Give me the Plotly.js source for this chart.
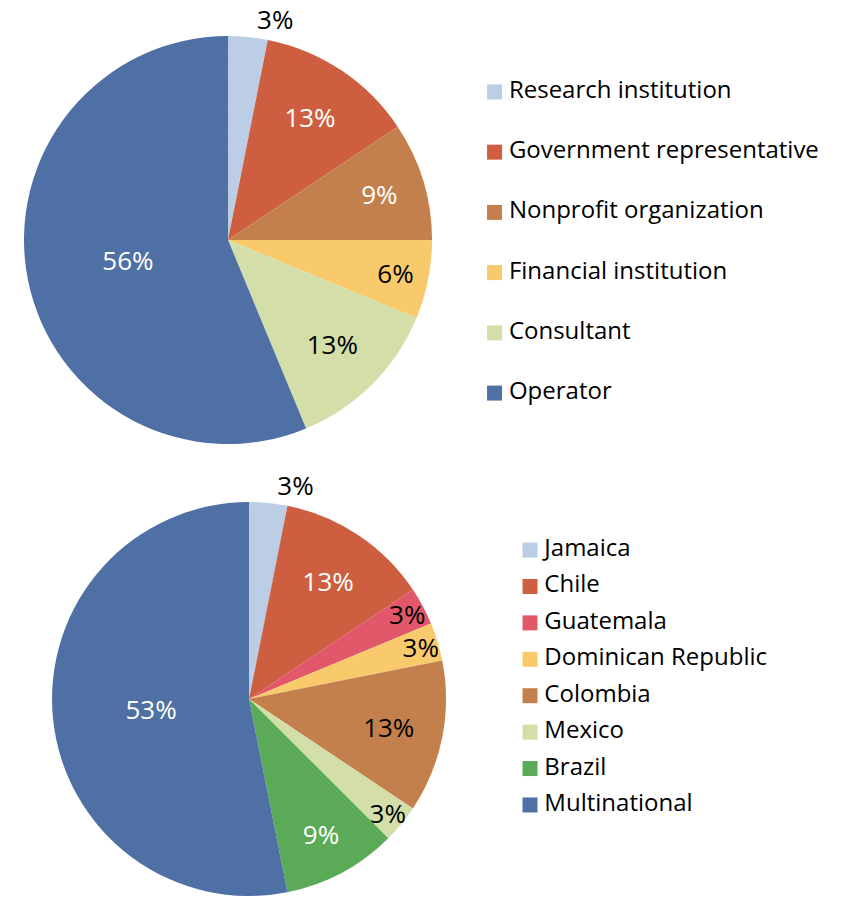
<!DOCTYPE html>
<html>
<head>
<meta charset="utf-8">
<script src="https://cdn.plot.ly/plotly-3.0.1.min.js"></script>
<style>html,body{margin:0;padding:0;background:#fff;}#chart{width:842px;height:897px;}</style>
</head>
<body>
<div id="chart"></div>
<script>
// ---- data ----
var roleLabels = ["Research institution", "Government representative", "Nonprofit organization", "Financial institution", "Consultant", "Operator"];
var roleCounts = [1, 4, 3, 2, 4, 18];
var roleColors = ["#bccde6", "#cd5f40", "#c4804c", "#f8ca6c", "#d3dea8", "#4e70a4"];
var roleTextColors = ["#000000", "#ffffff", "#ffffff", "#000000", "#000000", "#ffffff"];
var roleTextPos = ["outside", "inside", "inside", "inside", "inside", "inside"];

var countryLabels = ["Jamaica", "Chile", "Guatemala", "Dominican Republic", "Colombia", "Mexico", "Brazil", "Multinational"];
var countryCounts = [1, 4, 1, 1, 4, 1, 3, 17];
var countryColors = ["#bccde6", "#cd5f40", "#e0586a", "#f8ca6c", "#c4804c", "#d3dea8", "#5aaa57", "#4e70a4"];
var countryTextColors = ["#000000", "#ffffff", "#000000", "#000000", "#000000", "#000000", "#ffffff", "#ffffff"];
var countryTextPos = ["outside", "inside", "inside", "inside", "inside", "inside", "inside", "inside"];

var FONT = "Open Sans, Noto Sans, sans-serif";

function idx(arr) { return arr.map(function (_, i) { return i; }); }
function zeros(arr) { return arr.map(function () { return 0; }); }

var traces = [
  {
    type: "pie", labels: roleLabels, values: roleCounts, sort: false, direction: "clockwise", rotation: 0,
    marker: { colors: roleColors, line: { width: 0 } },
    texttemplate: "%{percent:.0%}", textposition: roleTextPos, insidetextorientation: "horizontal",
    textfont: { family: FONT, size: 26, color: roleTextColors },
    domain: { x: [0.0285, 0.5131], y: [0.505, 0.9599] },
    showlegend: false, hoverinfo: "label+percent"
  },
  {
    type: "pie", labels: countryLabels, values: countryCounts, sort: false, direction: "clockwise", rotation: 0,
    marker: { colors: countryColors, line: { width: 0 } },
    texttemplate: "%{percent:.0%}", textposition: countryTextPos, insidetextorientation: "horizontal",
    textfont: { family: FONT, size: 26, color: countryTextColors },
    domain: { x: [0.0618, 0.5297], y: [0.0011, 0.4404] },
    showlegend: false, hoverinfo: "label+percent"
  },
  {
    type: "scatter", mode: "markers+text", xaxis: "x", yaxis: "y",
    x: zeros(roleLabels), y: idx(roleLabels), text: roleLabels, texttemplate: "\u2009%{text}", textposition: "middle right",
    marker: { symbol: "square", size: 15, color: roleColors },
    textfont: { family: FONT, size: 24, color: "#000000" },
    cliponaxis: false, showlegend: false, hoverinfo: "text"
  },
  {
    type: "scatter", mode: "markers+text", xaxis: "x2", yaxis: "y2",
    x: zeros(countryLabels), y: idx(countryLabels), text: countryLabels, texttemplate: "\u2009%{text}", textposition: "middle right",
    marker: { symbol: "square", size: 15, color: countryColors },
    textfont: { family: FONT, size: 24, color: "#000000" },
    cliponaxis: false, showlegend: false, hoverinfo: "text"
  }
];

var hiddenAxis = { showgrid: false, zeroline: false, showticklabels: false, showline: false, ticks: "", fixedrange: true };

var layout = {
  width: 842, height: 897,
  margin: { l: 0, r: 0, t: 0, b: 0 },
  paper_bgcolor: "#ffffff", plot_bgcolor: "rgba(0,0,0,0)",
  font: { family: FONT, color: "#000000" },
  uniformtext: { mode: "show", minsize: 26 },
  showlegend: false,
  xaxis: Object.assign({}, hiddenAxis, { domain: [0.5636, 0.8011], range: [-1, 9] }),
  yaxis: Object.assign({}, hiddenAxis, { domain: [0.5282, 0.9311], range: [5.5, -0.5] }),
  xaxis2: Object.assign({}, hiddenAxis, { domain: [0.6057, 0.8432], range: [-1, 9], anchor: "y2" }),
  yaxis2: Object.assign({}, hiddenAxis, { domain: [0.0823, 0.4071], range: [7.5, -0.5], anchor: "x2" })
};

Plotly.newPlot("chart", traces, layout, { displayModeBar: false, staticPlot: true });
</script>
</body>
</html>
